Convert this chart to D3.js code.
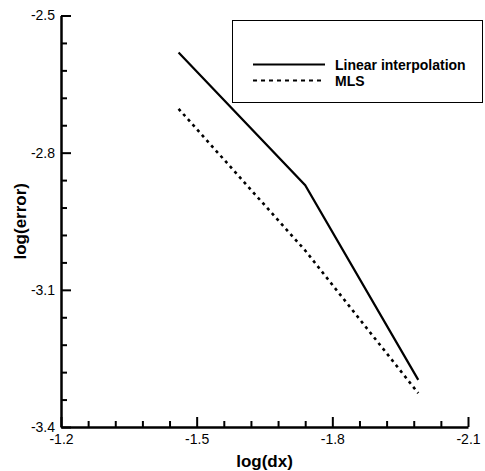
<!DOCTYPE html>
<html>
<head>
<meta charset="utf-8">
<script src="https://cdn.jsdelivr.net/npm/d3@7"></script>
<style>
  body { margin: 0; background: #fff; }
  svg { display: block; font-family: "Liberation Sans", Arial, sans-serif; }
</style>
</head>
<body>
<svg id="chart" width="485" height="471"></svg>
<script>
// DATA
const logDx = [-1.46, -1.74, -1.99];
const linearErr = [-2.581, -2.871, -3.297];
const mlsErr = [-2.704, -3.014, -3.326];
const xTicks = [-1.2, -1.5, -1.8, -2.1];
const yTicks = [-3.4, -3.1, -2.8, -2.5];
const seriesNames = ["Linear interpolation", "MLS"];

// CANVAS SETUP
const svg = d3.select("#chart");
const margin = { top: 15.5, right: 17, bottom: 44, left: 61 };
const W = +svg.attr("width"), H = +svg.attr("height");

const xScale = d3.scaleLinear().domain([-1.2, -2.1]).range([margin.left, W - margin.right]);
const yScale = d3.scaleLinear().domain([-3.4, -2.5]).range([H - margin.bottom, margin.top]);

// 4 minor ticks between each pair of major ticks
const minor = (ticks) => {
  const out = [];
  for (let i = 0; i < ticks.length - 1; i++) {
    for (let k = 1; k < 5; k++) out.push(ticks[i] + (ticks[i + 1] - ticks[i]) * k / 5);
  }
  return out;
};

const fmt = (d) => d.toFixed(1);

// y axis
const gy = svg.append("g").attr("transform", `translate(${margin.left},0)`);
gy.call(d3.axisLeft(yScale).tickValues(yTicks).tickFormat(fmt).tickSizeInner(-10).tickSizeOuter(0).tickPadding(6));
gy.append("g").call(d3.axisLeft(yScale).tickValues(minor(yTicks)).tickFormat("").tickSizeInner(-6).tickSizeOuter(0))
  .select(".domain").remove();

// x axis
const gx = svg.append("g").attr("transform", `translate(0,${H - margin.bottom})`);
gx.call(d3.axisBottom(xScale).tickValues(xTicks).tickFormat(fmt).tickSizeInner(-10).tickSizeOuter(0).tickPadding(7));
gx.append("g").call(d3.axisBottom(xScale).tickValues(minor(xTicks)).tickFormat("").tickSizeInner(-6).tickSizeOuter(0))
  .select(".domain").remove();

svg.selectAll(".domain").attr("stroke", "#000").attr("stroke-width", 2.5);
svg.selectAll(".tick line").attr("stroke", "#000").attr("stroke-width", 2);
svg.selectAll(".tick text").attr("fill", "#000").style("font-size", "14px");

// axis titles
svg.append("text")
  .attr("x", (xScale.range()[0] + xScale.range()[1]) / 2)
  .attr("y", 467)
  .attr("text-anchor", "middle")
  .style("font-size", "17px").style("font-weight", "bold")
  .text("log(dx)");

svg.append("text")
  .attr("transform", `translate(26,${(yScale.range()[0] + yScale.range()[1]) / 2}) rotate(-90)`)
  .attr("text-anchor", "middle")
  .style("font-size", "17px").style("font-weight", "bold")
  .text("log(error)");

// LINES
const line = d3.line().x((d) => xScale(d[0])).y((d) => yScale(d[1]));

svg.append("path")
  .datum(d3.zip(logDx, linearErr))
  .attr("d", line)
  .attr("fill", "none").attr("stroke", "#000").attr("stroke-width", 2.2);

svg.append("path")
  .datum(d3.zip(logDx, mlsErr))
  .attr("d", line)
  .attr("fill", "none").attr("stroke", "#000").attr("stroke-width", 2.6)
  .attr("stroke-dasharray", "3,4");

// LEGEND
const lg = svg.append("g");
lg.append("rect")
  .attr("x", 232.5).attr("y", 20.5).attr("width", 250).attr("height", 82)
  .attr("fill", "#fff").attr("stroke", "#000").attr("stroke-width", 1);

const legendRows = [
  { name: seriesNames[0], y: 64.5, dash: null },
  { name: seriesNames[1], y: 80.5, dash: "4,4" },
];
legendRows.forEach((r) => {
  lg.append("line")
    .attr("x1", 253).attr("x2", 325).attr("y1", r.y).attr("y2", r.y)
    .attr("stroke", "#000").attr("stroke-width", 2.2)
    .attr("stroke-dasharray", r.dash);
  lg.append("text")
    .attr("x", 335).attr("y", r.y).attr("dy", "0.36em")
    .style("font-size", "14px").style("font-weight", "bold")
    .text(r.name);
});
</script>
</body>
</html>
